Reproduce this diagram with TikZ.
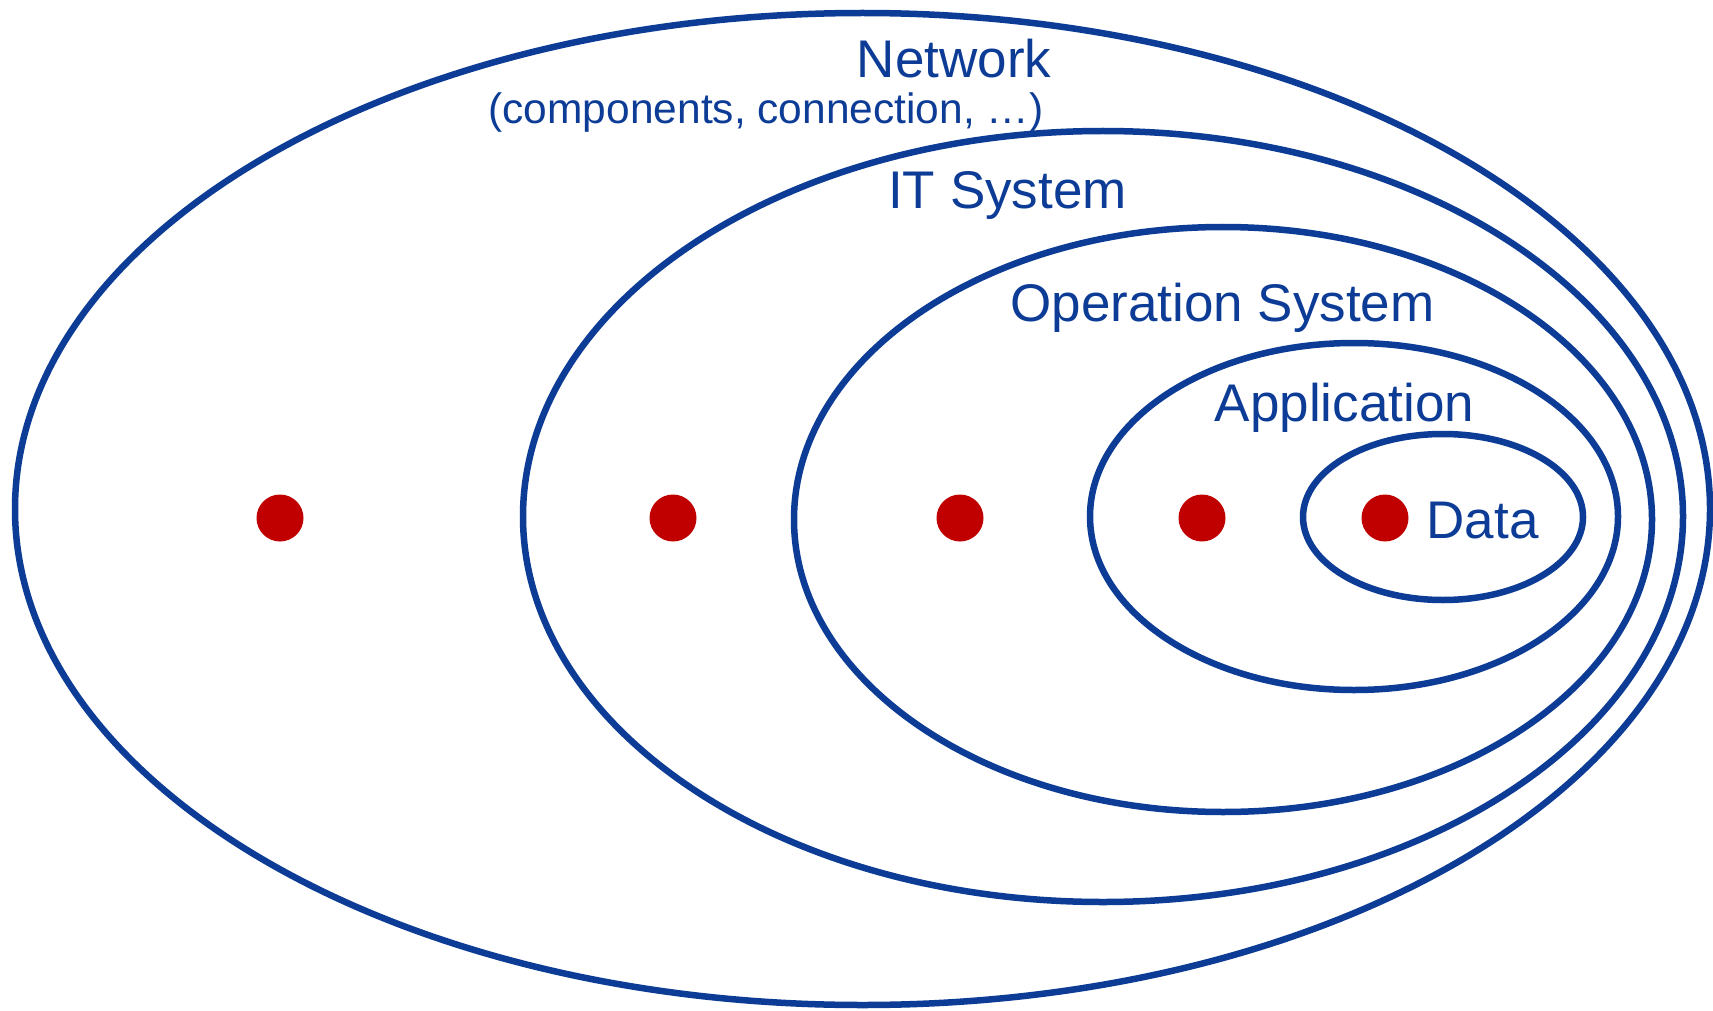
\documentclass[tikz,border=0pt]{standalone}
\usepackage{fontspec}
\setmainfont{Liberation Sans}
\definecolor{ringblue}{RGB}{13,60,150}
\definecolor{dotred}{RGB}{192,0,0}
\begin{document}
\begin{tikzpicture}[x=1pt,y=-1pt,
  ring/.style={draw=ringblue,line width=6.5pt},
  dot/.style={circle,fill=dotred,draw=none,minimum size=47pt,inner sep=0pt},
  lbl/.style={text=ringblue,anchor=base,inner sep=0pt,font=\fontsize{53}{60}\selectfont},
  sublbl/.style={text=ringblue,anchor=base,inner sep=0pt,font=\fontsize{42.5}{48}\selectfont}]
\useasboundingbox (0,0) rectangle (1713,1011);
\fill[white] (0,0) rectangle (1713,1011);
\draw[ring] (862.5,509) ellipse [x radius=847.5, y radius=496];
\draw[ring] (1103,516.5) ellipse [x radius=580, y radius=385.5];
\draw[ring] (1223,519.5) ellipse [x radius=429, y radius=292.5];
\draw[ring] (1354,516.5) ellipse [x radius=264, y radius=173.5];
\draw[ring] (1443,517) ellipse [x radius=140, y radius=83];
\node[dot] (d1) at (280,518) {};
\node[dot] (d2) at (673,518) {};
\node[dot] (d3) at (960,518) {};
\node[dot] (d4) at (1202,518) {};
\node[dot] (d5) at (1385,518) {};
\node[lbl] (net) at (954,78) {Network};
\node[sublbl] (netsub) at (766,124) {(components, connection, …)};
\node[lbl] (its) at (1007.5,208) {IT System};
\node[lbl] (ops) at (1222.5,321) {Operation System};
\node[lbl] (app) at (1344.5,421) {Application};
\node[lbl] (data) at (1482.5,538) {Data};
\end{tikzpicture}
\end{document}
